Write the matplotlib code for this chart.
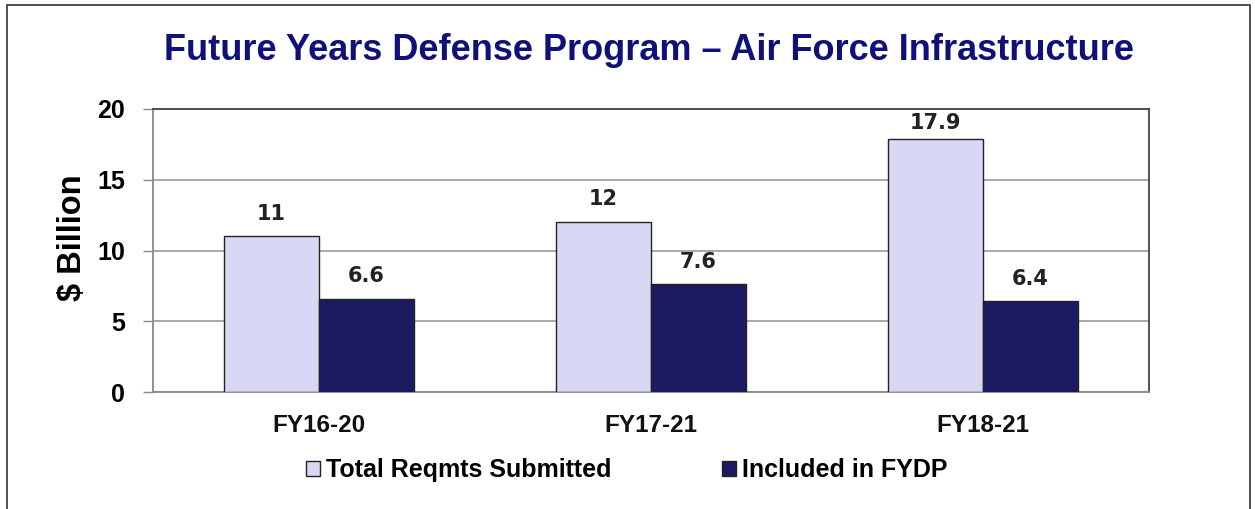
import matplotlib
matplotlib.use("Agg")
import matplotlib.pyplot as plt
import numpy as np
from matplotlib.patches import Rectangle

periods = ["FY16-20", "FY17-21", "FY18-21"]
total_submitted = [11, 12, 17.9]
included_fydp = [6.6, 7.6, 6.4]
series_names = ["Total Reqmts Submitted", "Included in FYDP"]
yticks = [0, 5, 10, 15, 20]

LIGHT, DARK, NAVY = "#d8d8f4", "#1c1a62", "#10107a"

plt.rcParams["font.family"] = ["Liberation Sans", "DejaVu Sans"]
fig = plt.figure(figsize=(12.55, 5.09), dpi=100)
ax = fig.add_axes([153 / 1255, 1 - 392 / 509, 996 / 1255, 283 / 509])

# outer frame
fig.add_artist(Rectangle((7 / 1255, -0.05), 1243 / 1255, 1 - 5 / 509 + 0.05,
                         transform=fig.transFigure, fill=False, ec="#333333", lw=1.2))

x = np.arange(len(periods))
w = 0.286
b1 = ax.bar(x - w / 2, total_submitted, w, color=LIGHT, ec="#222222", lw=1.0, zorder=3)
b2 = ax.bar(x + w / 2, included_fydp, w, color=DARK, ec="#222222", lw=1.0, zorder=3)

# value labels; keep them inside the plot box like the original
for bars, vals in [(b1, total_submitted), (b2, included_fydp)]:
    for r, v in zip(bars, vals):
        ax.text(r.get_x() + r.get_width() / 2, min(v + 0.9, 18.3), f"{v:g}", ha="center",
                va="bottom", fontsize=15, weight="bold", color="#222222", family="DejaVu Sans")

ax.set_xlim(-0.5, 2.5)
ax.set_ylim(0, 20)
ax.set_yticks(yticks)
ax.set_xticks(x)
ax.set_xticklabels(periods, fontsize=17.5, weight="bold", color="#111111")
ax.tick_params(axis="y", labelsize=18, length=7.2, color="#888888", width=1.0, pad=13)
for lab in ax.get_yticklabels():
    lab.set_weight("bold")
ax.tick_params(axis="x", length=0, pad=16)
ax.grid(axis="y", color="#a8a8a8", lw=1.4, zorder=0)
ax.set_axisbelow(True)
ax.spines["left"].set_color("#888888")
ax.spines["bottom"].set_color("#888888")
ax.spines["top"].set_color("#444444")
ax.spines["right"].set_color("#444444")
for s in ax.spines.values():
    s.set_linewidth(1.3)
ax.set_ylabel("$ Billion", fontsize=23.5, weight="bold")
ax.yaxis.set_label_coords((88 - 153) / 996, 0.545)

fig.text(649 / 1255, 1 - 50 / 509, "Future Years Defense Program \u2013 Air Force Infrastructure",
         ha="center", va="center", fontsize=26, weight="bold", color=NAVY)

handles = [Rectangle((0, 0), 1, 1, fc=LIGHT, ec="#222222", lw=1.0),
           Rectangle((0, 0), 1, 1, fc=DARK, ec="#222222", lw=1.0)]
fig.legend(handles, series_names, loc="center", bbox_to_anchor=(627 / 1255, 1 - 470 / 509),
           ncol=2, frameon=False, handlelength=0.56, handleheight=0.56, handletextpad=0.25,
           columnspacing=4.4, prop={"size": 18, "weight": "bold"})

fig.savefig("out.png", dpi=100)
